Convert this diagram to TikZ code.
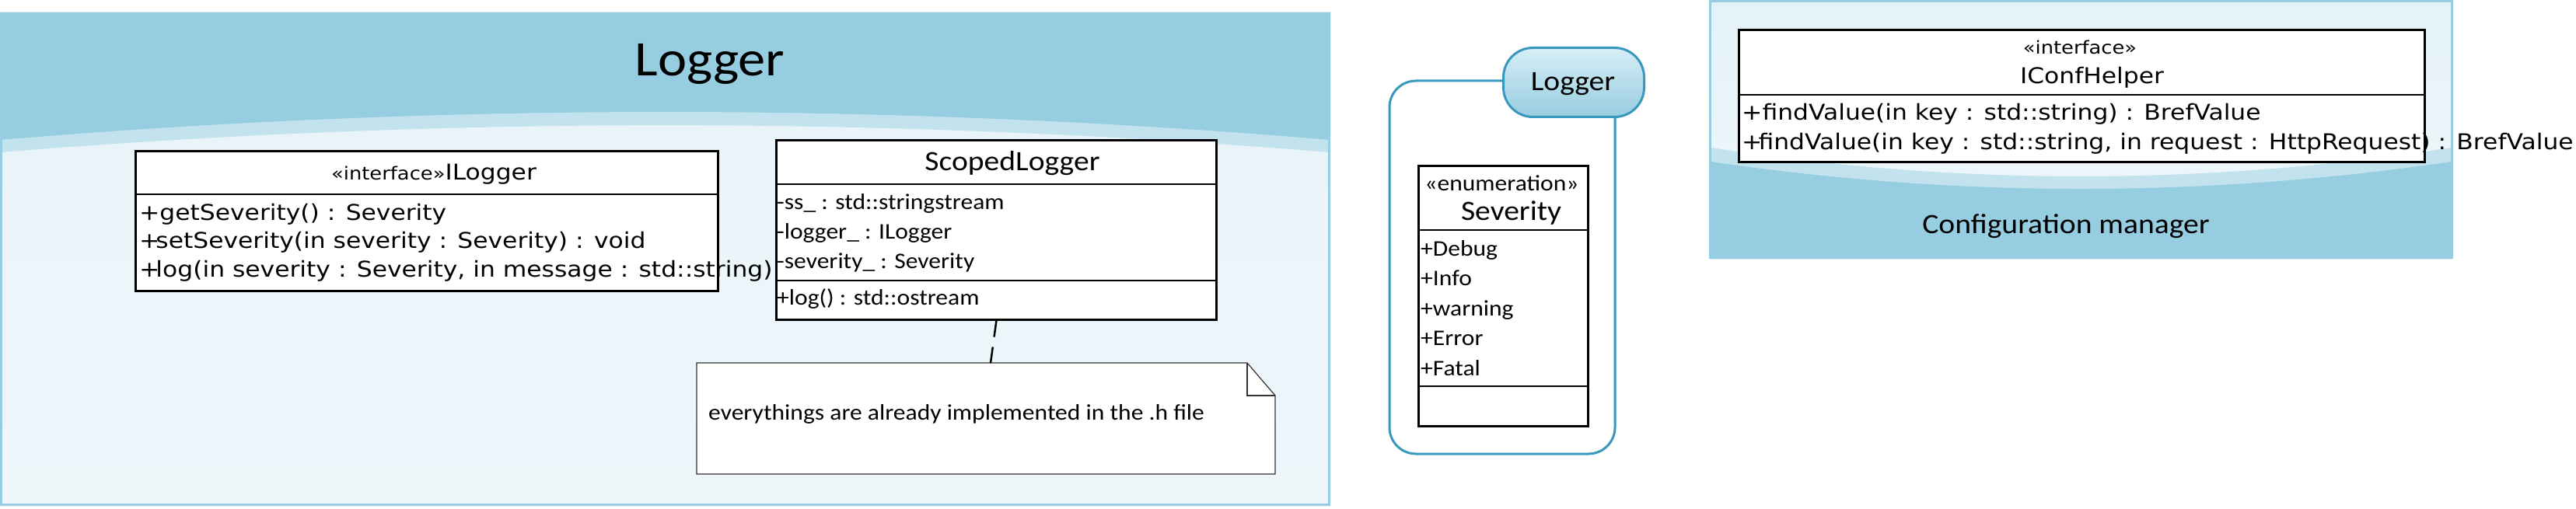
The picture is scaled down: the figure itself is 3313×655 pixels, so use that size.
\documentclass[tikz,border=0pt]{standalone}
\usepackage{fontspec}
\setmainfont[FakeStretch=1.1]{Carlito}
\newfontfamily\dvsans[FakeStretch=1.12]{DejaVu Sans}
\definecolor{hdr}{RGB}{150,205,225}
\definecolor{band}{RGB}{194,226,237}
\definecolor{paleA}{RGB}{231,243,249}
\definecolor{paleB}{RGB}{238,246,250}
\definecolor{cfgA}{RGB}{228,242,248}
\definecolor{cfgB}{RGB}{240,247,251}
\definecolor{pkg}{RGB}{58,152,190}
\definecolor{tabTop}{RGB}{214,238,246}
\definecolor{tabBot}{RGB}{152,205,225}
\definecolor{notegray}{RGB}{50,50,50}
\begin{document}
\begin{tikzpicture}[x=1pt,y=-1pt,
  umlbox/.style={draw=black, line width=2.8pt, fill=white, inner sep=0pt, anchor=north west},
  divider/.style={draw=black, line width=2.8pt},
  txt/.style={inner sep=0pt, anchor=base west, text=black},
  ctxt/.style={inner sep=0pt, anchor=base, text=black},
  calbody/.style={font=\fontsize{28.7}{34}\selectfont},
  caltitle/.style={font=\fontsize{36}{42}\selectfont},
  dvbody/.style={font=\dvsans\fontsize{28}{34}\selectfont},
  notestroke/.style={draw=notegray, line width=1.2pt},
  pkgstroke/.style={draw=pkg, line width=3pt}]
\useasboundingbox (0,0) rectangle (3313,655);

% ---------------- Logger panel ----------------
\shade[top color=paleA, bottom color=paleB] (0,16) rectangle (1711,651);
\fill[band] (0,16) -- (1711,16) -- (1711,196) .. controls (1141,149.5) and (570,149.5) .. (0,196) -- cycle;
\fill[hdr] (0,16) -- (1711,16) -- (1711,180) .. controls (1141,132) and (570,132) .. (0,180) -- cycle;
\draw[hdr, line width=3pt] (1.5,17.5) rectangle (1709.5,649.5);
\node[ctxt, font=\fontsize{64}{70}\selectfont] (title) at (913,98) {Logger};

% ILogger
\node[umlbox, minimum width=749pt, minimum height=180pt] (ilog) at (173,193) {};
\draw[divider] (173,250) -- (922,250);
\node[ctxt, font=\dvsans] (ilogname) at (558,231) {\fontsize{23}{28}\selectfont «interface»\fontsize{28}{34}\selectfont ILogger};
\node[txt, dvbody] (ilogm1) at (179,283) {+getSeverity() : Severity};
\node[txt, dvbody] (ilogm2) at (179,319.5) {+\kern-5pt setSeverity(in severity : Severity) : void};
\node[txt, dvbody] (ilogm3) at (179,356) {+\kern-5pt log(in severity : Severity, in message : std::string)};

% ScopedLogger
\node[umlbox, minimum width=566pt, minimum height=231pt] (scoped) at (997,179) {};
\draw[divider] (997,237) -- (1563,237);
\draw[divider] (997,361) -- (1563,361);
\node[ctxt, caltitle] (scopedname) at (1302,219) {ScopedLogger};
\node[txt, calbody] (sa1) at (999,269) {-ss\_ : std::stringstream};
\node[txt, calbody] (sa2) at (999,307) {-logger\_ : ILogger};
\node[txt, calbody] (sa3) at (999,345) {-severity\_ : Severity};
\node[txt, calbody] (so1) at (999,392) {+log() : std::ostream};

% Note
\node[inner sep=0pt, minimum width=744pt, minimum height=143pt, anchor=north west] (note) at (896,467) {};
\filldraw[fill=white, notestroke] (896,467) -- (1604,467) -- (1640,509) -- (1640,610) -- (896,610) -- cycle;
\draw[notestroke] (1604,467) -- (1604,509) -- (1640,509);
\node[txt, calbody] (notetext) at (911,540) {everythings are already implemented in the .h file};
\coordinate (noteanchor) at (1274,467);
\draw[line width=2.5pt, dash pattern=on 21pt off 13pt] (scoped.south) -- (noteanchor);

% ---------------- Logger package (Severity) ----------------
\draw[pkgstroke, rounded corners=34pt] (1932,104) -- (1787,104) -- (1787,584) -- (2077,584) -- (2077,149);
\node[pkgstroke, rounded corners=38pt, top color=tabTop, bottom color=tabBot, minimum width=181pt, minimum height=89pt, inner sep=0pt, anchor=north west] (tab) at (1932,60) {};
\node[ctxt, caltitle] (tabname) at (2023,117) {Logger};

\node[umlbox, minimum width=218pt, minimum height=334.5pt] (sev) at (1823,212.5) {};
\draw[divider] (1823,296) -- (2041,296);
\draw[divider] (1823,497) -- (2041,497);
\node[ctxt, calbody] (sevst) at (1931.5,245) {«enumeration»};
\node[ctxt, caltitle] (sevname) at (1943.5,283) {Severity};
\node[txt, calbody] (sv1) at (1827,329) {+Debug};
\node[txt, calbody] (sv2) at (1827,367.5) {+Info};
\node[txt, calbody] (sv3) at (1827,406) {+warning};
\node[txt, calbody] (sv4) at (1827,444.5) {+Error};
\node[txt, calbody] (sv5) at (1827,483) {+Fatal};

% ---------------- Configuration manager panel ----------------
\shade[top color=cfgA, bottom color=cfgB] (2200,0) rectangle (3153,333);
\fill[band] (2200,190) .. controls (2517,239.3) and (2835,239.3) .. (3153,190) -- (3153,333) -- (2200,333) -- cycle;
\fill[hdr] (2200,208) .. controls (2517,254.7) and (2835,254.7) .. (3153,208) -- (3153,333) -- (2200,333) -- cycle;
\fill[hdr] (2198,0) rectangle (3155,3);
\draw[hdr, line width=3pt] (2199.5,0) -- (2199.5,333);
\draw[hdr, line width=3pt] (3153.5,0) -- (3153.5,333);
\node[ctxt, caltitle] (cfgname) at (2657,300) {Configuration manager};

\node[umlbox, minimum width=882pt, minimum height=170pt] (ich) at (2235,37) {};
\draw[divider] (2235,122) -- (3117,122);
\node[ctxt, font=\dvsans\fontsize{23}{28}\selectfont] (ichst) at (2675,70) {«interface»};
\node[ctxt, dvbody] (ichname) at (2690.5,108) {IConfHelper};
\node[txt, dvbody] (ichm1) at (2240,155) {+findValue(in key : std::string) : BrefValue};
\node[txt, dvbody] (ichm2) at (2240,193) {+\kern-5pt findValue(in key : std::string, in request : HttpRequest) : BrefValue};
\end{tikzpicture}
\end{document}
